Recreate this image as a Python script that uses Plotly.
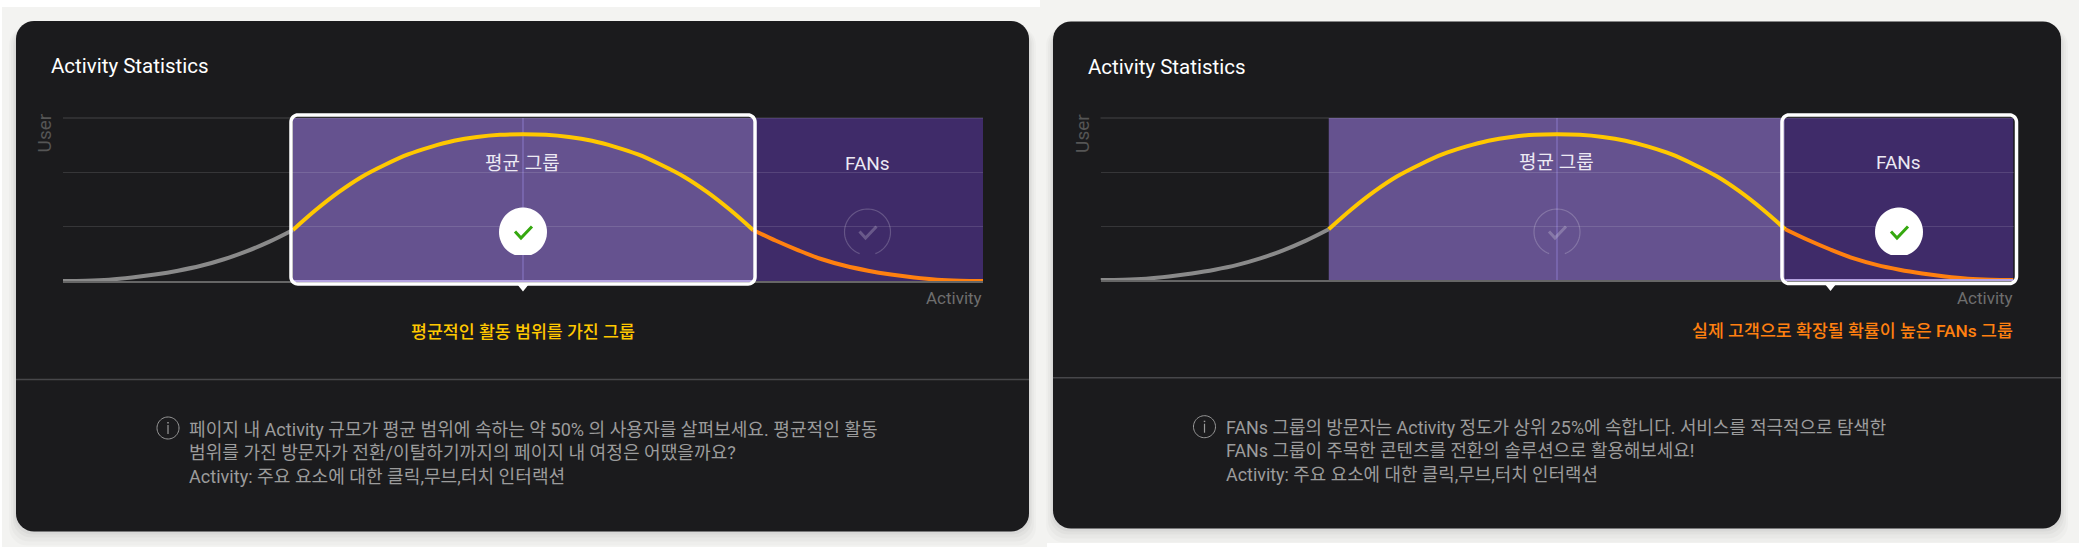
import numpy as np
import plotly.graph_objects as go

W, H = 2079, 547

# ---- data -------------------------------------------------------------
activity_low = [0, 2.5, 5, 7.5, 10, 12.5, 15, 17.5, 20, 22.5, 25]
users_low = [0, 0.006, 0.025, 0.065, 0.12, 0.19, 0.28, 0.40, 0.55, 0.73, 0.94]
activity_mid = [25, 27.5, 30, 32.5, 35, 37.5, 40, 42.5, 45, 47.5, 50, 52.5, 55, 57.5, 60, 62.5, 65, 67.5, 70, 72.5, 75]
users_mid = [0.94, 1.31, 1.64, 1.92, 2.14, 2.33, 2.47, 2.58, 2.65, 2.69, 2.70, 2.69, 2.65, 2.58, 2.47, 2.33, 2.14, 1.92, 1.64, 1.31, 0.94]
activity_high = [75, 77.5, 80, 82.5, 85, 87.5, 90, 92.5, 95, 97.5, 100]
users_high = [0.94, 0.74, 0.56, 0.40, 0.28, 0.19, 0.12, 0.065, 0.025, 0.006, 0]
band_names = ["평균 그룹", "FANs"]
band_ranges = [(25, 75), (75, 100)]
title_text = "Activity Statistics"
y_title = "User"
x_title = "Activity"
captions = ["평균적인 활동 범위를 가진 그룹", "실제 고객으로 확장될 확률이 높은 FANs 그룹"]
notes = [
    ["페이지 내 Activity 규모가 평균 범위에 속하는 약 50% 의 사용자를 살펴보세요. 평균적인 활동",
     "범위를 가진 방문자가 전환/이탈하기까지의 페이지 내 여정은 어땠을까요?",
     "Activity: 주요 요소에 대한 클릭,무브,터치 인터랙션"],
    ["FANs 그룹의 방문자는 Activity 정도가 상위 25%에 속합니다. 서비스를 적극적으로 탐색한",
     "FANs 그룹이 주목한 콘텐츠를 전환의 솔루션으로 활용해보세요!",
     "Activity: 주요 요소에 대한 클릭,무브,터치 인터랙션"],
]

# ---- style -------------------------------------------------------------
FONT = "Roboto, 'Noto Sans CJK KR', sans-serif"
CARD = "#1b1b1d"
BG = "#f3f3f1"
MID = "#65528f"
HIGH = "#3f2b69"
YELLOW = "#ffc800"
ORANGE = "#ff8010"
GREY = "#8a8a8a"


def px(x):
    return x / W


def py(y):
    return 1 - y / H


def P(points, close=True):
    s = "M " + " L ".join(f"{px(x):.5f},{py(y):.5f}" for x, y in points)
    return s + (" Z" if close else "")


def round_rect(x0, y0, x1, y1, r, n=10):
    pts = []
    for cx, cy, a0 in [(x1 - r, y0 + r, -90), (x1 - r, y1 - r, 0), (x0 + r, y1 - r, 90), (x0 + r, y0 + r, 180)]:
        for a in np.radians(np.linspace(a0, a0 + 90, n)):
            pts.append((cx + r * np.cos(a), cy + r * np.sin(a)))
    return pts


def pshape(path, **kw):
    return dict(type="path", xref="paper", yref="paper", path=path, **kw)


panels = [
    dict(ax="", card=(16, 21, 1029, 531.5), plot=(63, 983, 118, 281), sel=0, selbox=(291, 115, 755, 284), ptr=523,
         div=379.5, icon=(168, 428), tx=187, ty=[429, 452.7, 476.7], note_size=18.1, title=(48.5, 66), cap_y=332, cap_col=YELLOW,
         cap_x=523, cap_anchor="center", marks=[523, 867.5]),
    dict(ax="2", card=(1053, 21.5, 2061, 528.5), plot=(1100.5, 2013.5, 118, 280), sel=1, selbox=(1782, 115, 2016.5, 283.5), ptr=1830.5,
         div=377.7, icon=(1204.5, 426.7), tx=1224, ty=[427, 450, 474.7], note_size=17.9, title=(1085.5, 66.5), cap_y=331, cap_col=ORANGE,
         cap_x=2015, cap_anchor="right", marks=[1557, 1899]),
]

fig = go.Figure()
shapes, ann = [], []

# backgrounds
shapes.append(pshape(P([(2, 7), (1040, 7), (1040, 547), (2, 547)]), fillcolor=BG, line_width=0, layer="below"))
shapes.append(pshape(P([(1040, 0), (2079, 0), (2079, 543), (1047, 543), (1047, 547), (1040, 547)]), fillcolor=BG, line_width=0, layer="below"))

for i, p in enumerate(panels):
    xa, ya = "x" + p["ax"], "y" + p["ax"]
    x0, x1, yt, yb = p["plot"]
    cx0, cy0, cx1, cy1 = p["card"]
    # soft shadow
    for d, a in [(14, .018), (10, .022), (6, .026), (3, .03)]:
        shapes.append(pshape(P(round_rect(cx0 - d * .5, cy0 + 6, cx1 + d * .5, cy1 + d, 18)),
                             fillcolor=f"rgba(0,0,0,{a})", line_width=0, layer="below"))
    shapes.append(pshape(P(round_rect(cx0, cy0, cx1, cy1, 18)), fillcolor=CARD, line_width=0, layer="below"))
    # divider
    shapes.append(dict(type="line", xref="paper", yref="paper", x0=px(cx0), x1=px(cx1), y0=py(p["div"]), y1=py(p["div"]),
                       line=dict(color="#47474a", width=1.5), layer="below"))

    # bands, drawn from the axis scale
    for (b0, b1), col in zip(band_ranges, [MID, HIGH]):
        shapes.append(dict(type="rect", xref=xa, yref=ya + " domain", x0=b0, x1=b1, y0=0, y1=1,
                           fillcolor=col, line_width=0, layer="below"))
    shapes.append(dict(type="line", xref=xa, yref=ya + " domain", x0=50, x1=50, y0=0, y1=1,
                       line=dict(color="#8a78c8", width=1), layer="below"))
    # top grid line (plotly omits the one sitting on the range edge)
    shapes.append(dict(type="line", xref=xa + " domain", yref=ya + " domain", x0=0, x1=1, y0=1, y1=1,
                       line=dict(color="rgba(255,255,255,0.12)", width=1.5), layer="below"))

    axis_common = dict(showticklabels=False, ticks="", zeroline=False)
    dom_x = [px(x0), px(x1)]
    dom_y = [py(yb), py(yt)]
    fig.update_layout({
        "xaxis" + p["ax"]: dict(domain=dom_x, range=[0, 100], showgrid=False, showline=True, linecolor="#666666",
                                linewidth=2, anchor=ya, **axis_common),
        "yaxis" + p["ax"]: dict(domain=dom_y, range=[0, 3], tickvals=[0, 1, 2, 3], showgrid=True,
                                gridcolor="rgba(255,255,255,0.12)", gridwidth=1, showline=False, anchor=xa, **axis_common),
    })

    for xs, ys, col in [(activity_low, users_low, GREY), (activity_mid, users_mid, YELLOW), (activity_high, users_high, ORANGE)]:
        fig.add_trace(go.Scatter(x=xs, y=ys, xaxis=xa, yaxis=ya, mode="lines", showlegend=False, hoverinfo="skip",
                                 line=dict(color=col, width=4, shape="spline", smoothing=1)))

    # selection outline + pointer
    b = band_ranges[p["sel"]]
    shapes.append(dict(type="line", xref=xa, yref=ya + " domain", x0=b[0], x1=b[1], y0=0, y1=0,
                       line=dict(color="#b5a3e0", width=2), layer="above"))
    sx0, sy0, sx1, sy1 = p["selbox"]
    shapes.append(pshape(P(round_rect(sx0, sy0, sx1, sy1, 7)), fillcolor="rgba(0,0,0,0)",
                         line=dict(color="white", width=3.5), layer="above"))
    shapes.append(pshape(P([(p["ptr"] - 6, sy1), (p["ptr"] + 6, sy1), (p["ptr"], sy1 + 7.5)]), fillcolor="white", line_width=0, layer="above"))

    # check marks
    cy = 232
    for k, mx in enumerate(p["marks"]):
        theta = np.radians(np.linspace(70, 110 - 360, 60))
        if k == p["sel"]:
            pts = [(mx + 24 * np.cos(t), min(cy + 24 * np.sin(t) * 1.02, cy + 23.5)) for t in theta]
            shapes.append(pshape(P(pts), fillcolor="white", line_width=0, layer="above"))
            chk = "#35a80f"
        else:
            pts = [(mx + 23 * np.cos(t), cy + 23 * np.sin(t)) for t in theta]
            shapes.append(pshape(P(pts, close=False), fillcolor="rgba(0,0,0,0)",
                                 line=dict(color="rgba(255,255,255,0.2)", width=1.2), layer="above"))
            chk = "rgba(255,255,255,0.22)"
        shapes.append(pshape(P([(mx - 8, cy - 0.5), (mx - 2, cy + 6), (mx + 9, cy - 5.5)], close=False),
                             fillcolor="rgba(0,0,0,0)", line=dict(color=chk, width=3), layer="above"))

    # info icon
    ix, iy = p["icon"]
    a = np.radians(np.linspace(0, 360, 50))
    shapes.append(pshape(P([(ix + 11 * np.cos(t), iy + 11 * np.sin(t)) for t in a]), fillcolor="rgba(0,0,0,0)",
                         line=dict(color="#9a9a9a", width=1), layer="above"))
    shapes.append(pshape(P([(ix, iy - 3), (ix, iy + 6)], close=False), line=dict(color="#9a9a9a", width=1.2), layer="above"))
    shapes.append(pshape(P([(ix, iy - 6), (ix, iy - 4.6)], close=False), line=dict(color="#9a9a9a", width=1.5), layer="above"))

    # text
    def T(x, y, text, size, color, anchor="left", **kw):
        ann.append(dict(xref="paper", yref="paper", x=px(x), y=py(y), text=text, showarrow=False, xanchor=anchor,
                        yanchor="middle", font=dict(family=FONT, size=size, color=color, **kw.pop("font", {})), **kw))

    T(p["title"][0], p["title"][1], title_text, 20.5, "#ffffff")
    T(x0 - 18.6, 133, y_title, 19, "#555555", "center", textangle=-90)
    T(x1 + 1, 298, x_title, 17, "#6e6e6e", "right")
    for nm, (b0, b1) in zip(band_names, band_ranges):
        ann.append(dict(xref=xa, yref=ya, x=(b0 + b1) / 2 - 0.1, y=2.17, text=nm, showarrow=False, xanchor="center",
                        yanchor="middle", font=dict(family=FONT, size=19, color="#ece9f3")))
    T(p["cap_x"], p["cap_y"], captions[i], 17.3, p["cap_col"], p["cap_anchor"], font=dict(weight=500))
    for line, ty in zip(notes[i], p["ty"]):
        T(p["tx"], ty, line, p["note_size"], "#9c9c9c")

fig.update_layout(width=W, height=H, margin=dict(l=0, r=0, t=0, b=0), paper_bgcolor="#ffffff", plot_bgcolor="rgba(0,0,0,0)",
                  shapes=shapes, annotations=ann, showlegend=False)
fig.write_html("out.html", config={"displayModeBar": False},
               post_script="document.body.style.margin='0';document.body.style.overflow='hidden';")
